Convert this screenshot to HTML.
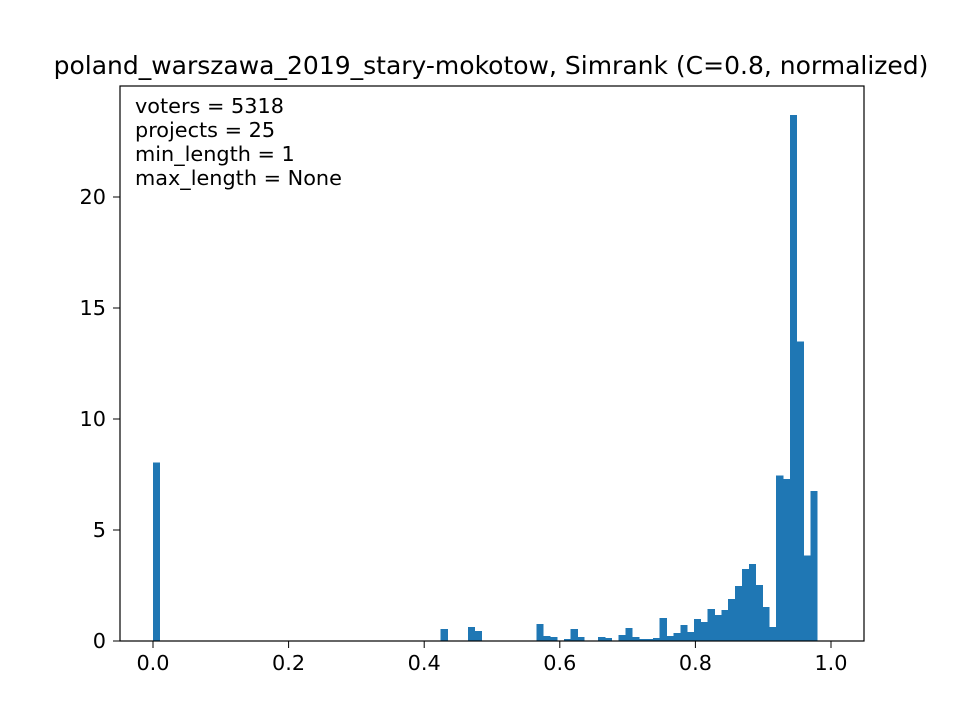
<!DOCTYPE html>
<html><head><meta charset="utf-8"><style>
body{margin:0;background:#fff}
svg text{font-family:"DejaVu Sans",sans-serif;fill:#000}
</style></head><body>
<svg id="chart" width="960" height="720">
<rect width="960" height="720" fill="#fff"/>
<text x="491" y="74" font-size="25" text-anchor="middle">poland_warszawa_2019_stary-mokotow, Simrank (C=0.8, normalized)</text>
<g id="bars" shape-rendering="crispEdges"></g>
<g id="xticks"></g>
<g id="yticks"></g>
<rect x="120" y="86" width="744" height="555" fill="none" stroke="#000" stroke-width="1.2"/>
<g font-size="20.8">
<text x="135" y="113">voters = 5318</text>
<text x="135" y="137">projects = 25</text>
<text x="135" y="161">min_length = 1</text>
<text x="135" y="185">max_length = None</text>
</g>
</svg>
<script>
const binWidth = 0.0101;
const binIndex = [0,42,46,47,56,57,58,60,61,62,65,66,68,69,70,71,72,73,74,75,76,77,78,79,80,81,82,83,84,85,86,87,88,89,90,91,92,93,94,95,96];
const binValue = [8.05,0.54,0.63,0.45,0.77,0.23,0.18,0.09,0.54,0.18,0.18,0.14,0.27,0.59,0.18,0.09,0.09,0.14,1.04,0.23,0.36,0.72,0.41,0.99,0.86,1.44,1.17,1.40,1.89,2.48,3.24,3.47,2.52,1.53,0.63,7.45,7.3,23.7,13.5,3.85,6.75];
const xTicks = [0,0.2,0.4,0.6,0.8,1.0];
const xTickLabels = ["0.0","0.2","0.4","0.6","0.8","1.0"];
const yTicks = [0,5,10,15,20];
const ns = "http://www.w3.org/2000/svg";
const xs = v => 153 + v * 678;
const ys = v => 641 - v * 22.2;
const bars = document.getElementById('bars');
binIndex.forEach((b, i) => {
  const r = document.createElementNS(ns, 'rect');
  const x0 = xs(b * binWidth), x1 = xs((b + 1) * binWidth);
  r.setAttribute('x', x0); r.setAttribute('width', x1 - x0 + 0.3);
  r.setAttribute('y', ys(binValue[i])); r.setAttribute('height', ys(0) - ys(binValue[i]));
  r.setAttribute('fill', '#1f77b4');
  
  
  bars.appendChild(r);
});
const xg = document.getElementById('xticks');
xTicks.forEach((t, i) => {
  const l = document.createElementNS(ns, 'line');
  l.setAttribute('x1', xs(t)); l.setAttribute('x2', xs(t));
  l.setAttribute('y1', 641); l.setAttribute('y2', 648);
  l.setAttribute('stroke', '#000');
  
  
  xg.appendChild(l);
  const tx = document.createElementNS(ns, 'text');
  tx.setAttribute('x', xs(t)); tx.setAttribute('y', 670);
  tx.setAttribute('font-size', '20.8'); tx.setAttribute('text-anchor', 'middle');
  tx.textContent = xTickLabels[i];
  
  
  xg.appendChild(tx);
});
const yg = document.getElementById('yticks');
yTicks.forEach(t => {
  const l = document.createElementNS(ns, 'line');
  l.setAttribute('x1', 113); l.setAttribute('x2', 120);
  l.setAttribute('y1', ys(t)); l.setAttribute('y2', ys(t));
  l.setAttribute('stroke', '#000');
  
  
  yg.appendChild(l);
  const tx = document.createElementNS(ns, 'text');
  tx.setAttribute('x', 106); tx.setAttribute('y', ys(t) + 7);
  tx.setAttribute('font-size', '20.8'); tx.setAttribute('text-anchor', 'end');
  tx.textContent = String(t);
  
  
  yg.appendChild(tx);
});
</script>
</body></html>
